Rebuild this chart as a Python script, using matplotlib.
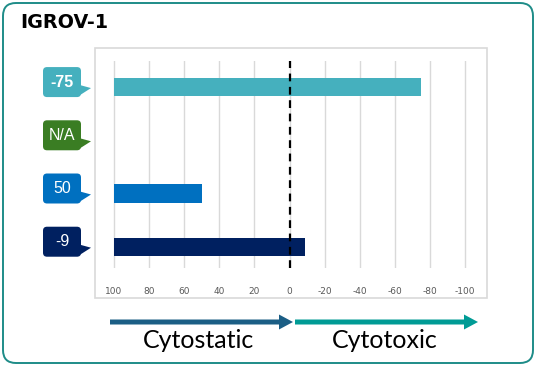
import matplotlib.pyplot as plt
from matplotlib.patches import FancyBboxPatch, Rectangle, Polygon, FancyArrow

# data
cell_line = "IGROV-1"
labels = ["-75", "N/A", "50", "-9"]
values = [-75, None, 50, -9]
colors = ["#45B0BE", "#3A7D23", "#0070C0", "#002060"]
ticks = [100, 80, 60, 40, 20, 0, -20, -40, -60, -80, -100]

W, H = 536, 366
fig = plt.figure(figsize=(W / 100, H / 100), dpi=100)

# overlay in pixel coordinates (y down) for the decorations
deco = fig.add_axes([0, 0, 1, 1], zorder=0)
deco.set_xlim(0, W)
deco.set_ylim(H, 0)
deco.axis("off")

def fx(px):
    return px / W

def fy(py):
    return 1 - py / H

# main chart area
ax = fig.add_axes([fx(95), fy(268), fx(487) - fx(95), fy(61) - fy(268)], zorder=1)
ax.patch.set_visible(False)
ax.set_xlim(110.8, -112.5)
ax.set_ylim(3.40, -0.49)

for i, v in enumerate(values):
    if v is None:
        continue
    ax.barh(i, v - 100, left=100, height=0.34, color=colors[i], zorder=2)

ax.set_xticks(ticks)
ax.set_xticklabels([str(t) for t in ticks], fontsize=6.5, color="#595959")
ax.tick_params(axis="x", length=0, pad=14)
ax.set_yticks([])
ax.grid(axis="x", color="#D9D9D9", linewidth=1, zorder=0)
for s in ax.spines.values():
    s.set_visible(False)
ax.axvline(0, color="black", linestyle=(0, (3.5, 2.5)), linewidth=1.6, zorder=3)

# outer border and chart box
deco.add_patch(FancyBboxPatch((3, 3), W - 6, H - 6, boxstyle="round,pad=0,rounding_size=13",
                              facecolor="white", edgecolor="#1E8C88", linewidth=1.4))
deco.add_patch(Rectangle((95, 48), 392, 250, facecolor="none", edgecolor="#D9D9D9", linewidth=1.2))

deco.text(20, 22, cell_line, fontsize=13.8, fontweight="bold", va="center", ha="left",
          family="DejaVu Sans")

# callout labels
for i, (lab, c) in enumerate(zip(labels, colors)):
    ypix = H - ax.transData.transform((0, i))[1]
    deco.add_patch(FancyBboxPatch((43, ypix - 20), 38, 30, boxstyle="round,pad=0,rounding_size=4",
                                  facecolor=c, edgecolor="none"))
    deco.add_patch(Polygon([(80, ypix - 2), (91, ypix + 1), (80, ypix + 8)], closed=True,
                           facecolor=c, edgecolor="none"))
    deco.text(62, ypix - 5, lab, color="white", fontsize=11.5, ha="center", va="center",
              family="Liberation Sans", fontweight="bold" if i == 0 else "normal")

# direction arrows
deco.add_patch(FancyArrow(110, 322, 169, 0, width=5, head_width=15, head_length=14,
                          length_includes_head=False, color="#1B5E85", linewidth=0))
deco.add_patch(FancyArrow(295, 322, 169, 0, width=5, head_width=15, head_length=14,
                          length_includes_head=False, color="#009B95", linewidth=0))
deco.text(199, 341, "Cytostatic", fontsize=18, ha="center", va="center", family="Lato")
deco.text(385, 341, "Cytotoxic", fontsize=18, ha="center", va="center", family="Lato")

fig.savefig("out.png", dpi=100)
